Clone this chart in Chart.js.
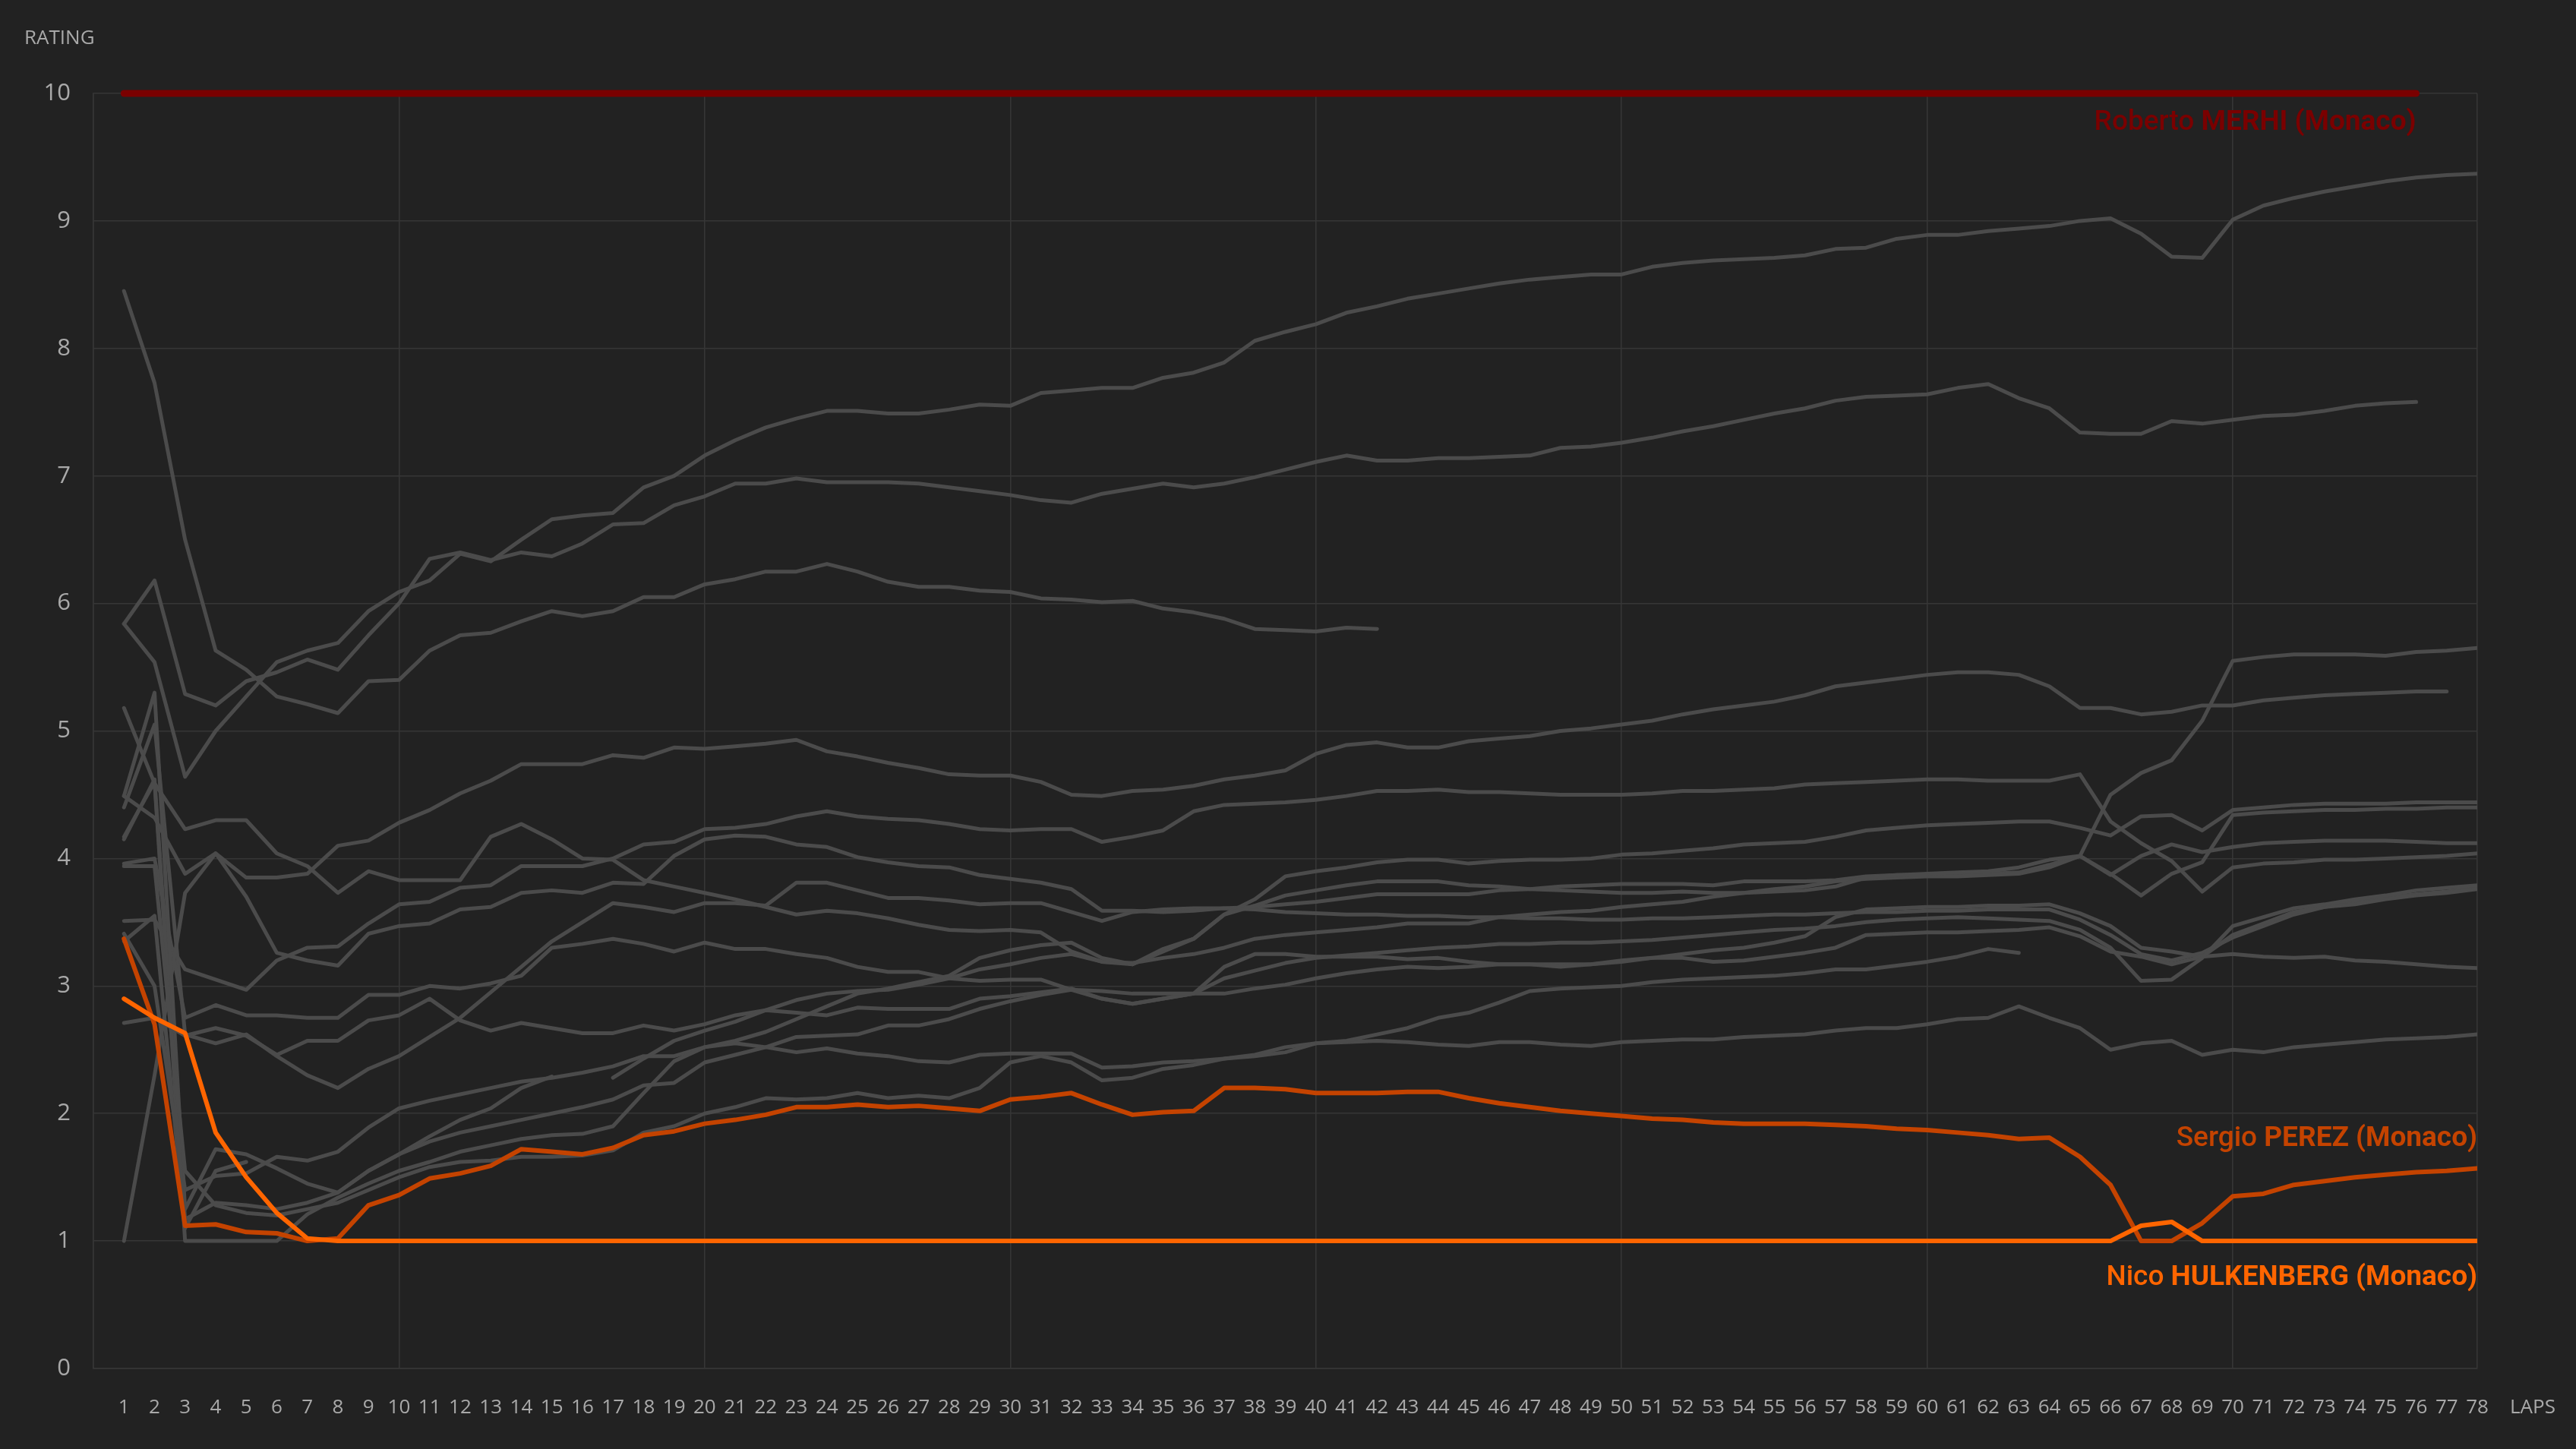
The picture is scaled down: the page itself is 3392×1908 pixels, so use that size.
<!DOCTYPE html>
<html lang="en">
<head>
    <meta charset="UTF-8">
    <title>Driver rating by lap</title>
    <script src="https://cdn.jsdelivr.net/npm/chart.js@4.4.1/dist/chart.umd.min.js"></script>
    <style>
        html, body {
            margin: 0;
            padding: 0;
            background: #222222;
        }
        #wrap {
            width: 3392px;
            height: 1908px;
        }
    </style>
</head>
<body>
    <div id="wrap">
        <canvas id="ratingChart" width="3392" height="1908"></canvas>
    </div>

    <script>
        // laps on the x axis
        var LAPS = [
            1, 2, 3, 4, 5, 6, 7, 8, 9, 10,
            11, 12, 13, 14, 15, 16, 17, 18, 19, 20,
            21, 22, 23, 24, 25, 26, 27, 28, 29, 30,
            31, 32, 33, 34, 35, 36, 37, 38, 39, 40,
            41, 42, 43, 44, 45, 46, 47, 48, 49, 50,
            51, 52, 53, 54, 55, 56, 57, 58, 59, 60,
            61, 62, 63, 64, 65, 66, 67, 68, 69, 70,
            71, 72, 73, 74, 75, 76, 77, 78
        ];

        // highlighted drivers
        var MERHI = [
            10, 10, 10, 10, 10, 10, 10, 10, 10, 10,
            10, 10, 10, 10, 10, 10, 10, 10, 10, 10,
            10, 10, 10, 10, 10, 10, 10, 10, 10, 10,
            10, 10, 10, 10, 10, 10, 10, 10, 10, 10,
            10, 10, 10, 10, 10, 10, 10, 10, 10, 10,
            10, 10, 10, 10, 10, 10, 10, 10, 10, 10,
            10, 10, 10, 10, 10, 10, 10, 10, 10, 10,
            10, 10, 10, 10, 10, 10
        ];
        var PEREZ = [
            3.37, 2.70, 1.12, 1.13, 1.07, 1.06, 1.00, 1.02, 1.28, 1.36,
            1.49, 1.53, 1.59, 1.72, 1.70, 1.68, 1.73, 1.83, 1.86, 1.92,
            1.95, 1.99, 2.05, 2.05, 2.07, 2.05, 2.06, 2.04, 2.02, 2.11,
            2.13, 2.16, 2.07, 1.99, 2.01, 2.02, 2.20, 2.20, 2.19, 2.16,
            2.16, 2.16, 2.17, 2.17, 2.12, 2.08, 2.05, 2.02, 2.00, 1.98,
            1.96, 1.95, 1.93, 1.92, 1.92, 1.92, 1.91, 1.90, 1.88, 1.87,
            1.85, 1.83, 1.80, 1.81, 1.66, 1.44, 1.00, 1.00, 1.14, 1.35,
            1.37, 1.44, 1.47, 1.50, 1.52, 1.54, 1.55, 1.57
        ];
        var HULKENBERG = [
            2.90, 2.75, 2.63, 1.85, 1.50, 1.22, 1.02, 1.00, 1.00, 1.00,
            1.00, 1.00, 1.00, 1.00, 1.00, 1.00, 1.00, 1.00, 1.00, 1.00,
            1.00, 1.00, 1.00, 1.00, 1.00, 1.00, 1.00, 1.00, 1.00, 1.00,
            1.00, 1.00, 1.00, 1.00, 1.00, 1.00, 1.00, 1.00, 1.00, 1.00,
            1.00, 1.00, 1.00, 1.00, 1.00, 1.00, 1.00, 1.00, 1.00, 1.00,
            1.00, 1.00, 1.00, 1.00, 1.00, 1.00, 1.00, 1.00, 1.00, 1.00,
            1.00, 1.00, 1.00, 1.00, 1.00, 1.00, 1.12, 1.15, 1.00, 1.00,
            1.00, 1.00, 1.00, 1.00, 1.00, 1.00, 1.00, 1.00
        ];

        // the rest of the field (grey)
        var DRIVER_A = [
            5.84, 5.54, 4.64, 5.00, 5.27, 5.54, 5.63, 5.69, 5.94, 6.09,
            6.18, 6.39, 6.33, 6.50, 6.66, 6.69, 6.71, 6.91, 7.00, 7.16,
            7.28, 7.38, 7.45, 7.51, 7.51, 7.49, 7.49, 7.52, 7.56, 7.55,
            7.65, 7.67, 7.69, 7.69, 7.77, 7.81, 7.89, 8.06, 8.13, 8.19,
            8.28, 8.33, 8.39, 8.43, 8.47, 8.51, 8.54, 8.56, 8.58, 8.58,
            8.64, 8.67, 8.69, 8.70, 8.71, 8.73, 8.78, 8.79, 8.86, 8.89,
            8.89, 8.92, 8.94, 8.96, 9.00, 9.02, 8.90, 8.72, 8.71, 9.01,
            9.12, 9.18, 9.23, 9.27, 9.31, 9.34, 9.36, 9.37
        ];
        var DRIVER_B = [
            5.84, 6.18, 5.29, 5.20, 5.39, 5.46, 5.56, 5.48, 5.75, 6.00,
            6.35, 6.40, 6.34, 6.40, 6.37, 6.47, 6.62, 6.63, 6.77, 6.84,
            6.94, 6.94, 6.98, 6.95, 6.95, 6.95, 6.94, 6.91, 6.88, 6.85,
            6.81, 6.79, 6.86, 6.90, 6.94, 6.91, 6.94, 6.99, 7.05, 7.11,
            7.16, 7.12, 7.12, 7.14, 7.14, 7.15, 7.16, 7.22, 7.23, 7.26,
            7.30, 7.35, 7.39, 7.44, 7.49, 7.53, 7.59, 7.62, 7.63, 7.64,
            7.69, 7.72, 7.61, 7.53, 7.34, 7.33, 7.33, 7.43, 7.41, 7.44,
            7.47, 7.48, 7.51, 7.55, 7.57, 7.58
        ];
        var DRIVER_C = [
            8.45, 7.73, 6.50, 5.63, 5.48, 5.27, 5.21, 5.14, 5.39, 5.40,
            5.63, 5.75, 5.77, 5.86, 5.94, 5.90, 5.94, 6.05, 6.05, 6.15,
            6.19, 6.25, 6.25, 6.31, 6.25, 6.17, 6.13, 6.13, 6.10, 6.09,
            6.04, 6.03, 6.01, 6.02, 5.96, 5.93, 5.88, 5.80, 5.79, 5.78,
            5.81, 5.80
        ];
        var DRIVER_D = [
            4.49, 4.32, 3.88, 4.04, 3.85, 3.85, 3.88, 4.10, 4.14, 4.28,
            4.38, 4.51, 4.61, 4.74, 4.74, 4.74, 4.81, 4.79, 4.87, 4.86,
            4.88, 4.90, 4.93, 4.84, 4.80, 4.75, 4.71, 4.66, 4.65, 4.65,
            4.60, 4.50, 4.49, 4.53, 4.54, 4.57, 4.62, 4.65, 4.69, 4.82,
            4.89, 4.91, 4.87, 4.87, 4.92, 4.94, 4.96, 5.00, 5.02, 5.05,
            5.08, 5.13, 5.17, 5.20, 5.23, 5.28, 5.35, 5.38, 5.41, 5.44,
            5.46, 5.46, 5.44, 5.35, 5.18, 5.18, 5.13, 5.15, 5.20, 5.20,
            5.24, 5.26, 5.28, 5.29, 5.30, 5.31, 5.31
        ];
        var DRIVER_E = [
            3.94, 3.94, 1.55, 1.28, 1.22, 1.20, 1.25, 1.30, 1.40, 1.50,
            1.58, 1.62, 1.63, 1.66, 1.66, 1.67, 1.71, 1.85, 1.90, 2.00,
            2.05, 2.12, 2.11, 2.12, 2.16, 2.12, 2.14, 2.12, 2.20, 2.40,
            2.45, 2.40, 2.26, 2.28, 2.35, 2.38, 2.43, 2.45, 2.48, 2.55,
            2.57, 2.62, 2.67, 2.75, 2.79, 2.87, 2.96, 2.98, 2.99, 3.00,
            3.03, 3.05, 3.06, 3.07, 3.08, 3.10, 3.13, 3.13, 3.16, 3.19,
            3.23, 3.29, 3.26
        ];
        var DRIVER_G = [
            4.17, 4.60, 1.00, 1.00, 1.00, 1.00, 1.21, 1.34, 1.45, 1.55,
            1.62, 1.70, 1.75, 1.80, 1.83, 1.84, 1.90, 2.16, 2.41, 2.52,
            2.57, 2.64, 2.74, 2.84, 2.94, 2.98, 3.03, 3.08, 3.22, 3.28,
            3.32, 3.34, 3.22, 3.17, 3.29, 3.37, 3.56, 3.63, 3.71, 3.75,
            3.79, 3.82, 3.82, 3.82, 3.79, 3.78, 3.76, 3.75, 3.74, 3.73,
            3.73, 3.74, 3.73, 3.73, 3.74, 3.75, 3.78, 3.85, 3.87, 3.88,
            3.89, 3.90, 3.93, 3.99, 4.02, 4.50, 4.67, 4.77, 5.08, 5.55,
            5.58, 5.60, 5.60, 5.60, 5.59, 5.62, 5.63, 5.65
        ];
        var DRIVER_H = [
            5.18, 4.59, 4.23, 4.30, 4.30, 4.04, 3.94, 3.73, 3.90, 3.83,
            3.83, 3.83, 4.17, 4.27, 4.15, 4.00, 3.99, 3.83, 3.78, 3.73,
            3.68, 3.62, 3.56, 3.59, 3.57, 3.53, 3.48, 3.44, 3.43, 3.44,
            3.42, 3.27, 3.19, 3.17, 3.27, 3.37, 3.56, 3.68, 3.86, 3.90,
            3.93, 3.97, 3.99, 3.99, 3.96, 3.98, 3.99, 3.99, 4.00, 4.03,
            4.04, 4.06, 4.08, 4.11, 4.12, 4.13, 4.17, 4.22, 4.24, 4.26,
            4.27, 4.28, 4.29, 4.29, 4.24, 4.18, 4.33, 4.34, 4.22, 4.38,
            4.40, 4.42, 4.43, 4.43, 4.43, 4.44, 4.44, 4.44
        ];
        var DRIVER_I = [
            4.49, 5.30, 1.25, 1.72, 1.68, 1.57, 1.45, 1.38, 1.55, 1.68,
            1.82, 1.95, 2.04, 2.20, 2.29, null, 2.28, 2.43, 2.57, 2.65,
            2.72, 2.81, 2.89, 2.94, 2.96, 2.97, 3.01, 3.06, 3.13, 3.17,
            3.22, 3.25, 3.19, 3.18, 3.22, 3.25, 3.30, 3.37, 3.40, 3.42,
            3.44, 3.46, 3.49, 3.49, 3.49, 3.54, 3.56, 3.58, 3.59, 3.62,
            3.64, 3.66, 3.70, 3.73, 3.76, 3.78, 3.82, 3.84, 3.85, 3.86,
            3.86, 3.87, 3.88, 3.93, 4.02, 3.88, 3.71, 3.88, 3.97, 4.34,
            4.36, 4.37, 4.38, 4.38, 4.39, 4.39, 4.40, 4.40
        ];
        var DRIVER_J = [
            1.00, 2.30, 3.73, 4.04, 3.70, 3.26, 3.20, 3.16, 3.41, 3.47,
            3.49, 3.60, 3.62, 3.73, 3.75, 3.73, 3.81, 3.80, 4.02, 4.15,
            4.18, 4.17, 4.11, 4.09, 4.01, 3.97, 3.94, 3.93, 3.87, 3.84,
            3.81, 3.76, 3.59, 3.59, 3.58, 3.59, 3.61, 3.62, 3.64, 3.66,
            3.69, 3.72, 3.72, 3.72, 3.72, 3.75, 3.76, 3.78, 3.79, 3.80,
            3.80, 3.80, 3.79, 3.82, 3.82, 3.82, 3.83, 3.86, 3.87, 3.87,
            3.88, 3.88, 3.89, 3.95, 4.02, 3.87, 4.02, 4.11, 4.05, 4.09,
            4.12, 4.13, 4.14, 4.14, 4.14, 4.13, 4.12, 4.12
        ];
        var DRIVER_K = [
            3.51, 3.52, 3.13, 3.05, 2.97, 3.20, 3.30, 3.31, 3.49, 3.64,
            3.66, 3.77, 3.79, 3.94, 3.94, 3.94, 4.00, 4.11, 4.13, 4.23,
            4.24, 4.27, 4.33, 4.37, 4.33, 4.31, 4.30, 4.27, 4.23, 4.22,
            4.23, 4.23, 4.13, 4.17, 4.22, 4.37, 4.42, 4.43, 4.44, 4.46,
            4.49, 4.53, 4.53, 4.54, 4.52, 4.52, 4.51, 4.50, 4.50, 4.50,
            4.51, 4.53, 4.53, 4.54, 4.55, 4.58, 4.59, 4.60, 4.61, 4.62,
            4.62, 4.61, 4.61, 4.61, 4.66, 4.29, 4.12, 3.98, 3.74, 3.93,
            3.96, 3.97, 3.99, 3.99, 4.00, 4.01, 4.02, 4.04
        ];
        var DRIVER_L = [
            4.15, 4.62, 1.17, 1.30, 1.28, 1.25, 1.30, 1.38, 1.55, 1.68,
            1.78, 1.85, 1.90, 1.95, 2.00, 2.05, 2.11, 2.22, 2.24, 2.40,
            2.46, 2.52, 2.60, 2.61, 2.62, 2.69, 2.69, 2.74, 2.82, 2.88,
            2.93, 2.97, 2.96, 2.94, 2.94, 2.94, 3.06, 3.12, 3.18, 3.22,
            3.24, 3.26, 3.28, 3.30, 3.31, 3.33, 3.33, 3.34, 3.34, 3.35,
            3.36, 3.38, 3.40, 3.42, 3.44, 3.45, 3.47, 3.50, 3.52, 3.53,
            3.54, 3.53, 3.52, 3.51, 3.44, 3.30, 3.04, 3.05, 3.22, 3.47,
            3.54, 3.61, 3.64, 3.68, 3.71, 3.75, 3.77, 3.79
        ];
        var DRIVER_M = [
            3.96, 4.00, 2.75, 2.85, 2.77, 2.77, 2.75, 2.75, 2.93, 2.93,
            3.00, 2.98, 3.02, 3.08, 3.30, 3.33, 3.37, 3.33, 3.27, 3.34,
            3.29, 3.29, 3.25, 3.22, 3.15, 3.11, 3.11, 3.06, 3.04, 3.05,
            3.05, 2.97, 2.90, 2.86, 2.90, 2.94, 3.15, 3.25, 3.25, 3.23,
            3.23, 3.23, 3.21, 3.22, 3.19, 3.17, 3.17, 3.15, 3.17, 3.20,
            3.22, 3.22, 3.19, 3.20, 3.23, 3.26, 3.30, 3.40, 3.41, 3.42,
            3.42, 3.43, 3.44, 3.46, 3.39, 3.27, 3.23, 3.17, 3.23, 3.40,
            3.49, 3.58, 3.62, 3.64, 3.68, 3.71, 3.73, 3.76
        ];
        var DRIVER_N = [
            2.71, 2.75, 2.61, 2.67, 2.61, 2.46, 2.57, 2.57, 2.73, 2.77,
            2.90, 2.73, 2.65, 2.71, 2.67, 2.63, 2.63, 2.69, 2.65, 2.70,
            2.77, 2.81, 2.79, 2.77, 2.83, 2.82, 2.82, 2.82, 2.90, 2.92,
            2.95, 2.98, 2.90, 2.86, 2.90, 2.94, 2.94, 2.98, 3.01, 3.06,
            3.10, 3.13, 3.15, 3.14, 3.15, 3.17, 3.17, 3.17, 3.17, 3.19,
            3.22, 3.25, 3.28, 3.30, 3.34, 3.39, 3.54, 3.60, 3.61, 3.62,
            3.62, 3.63, 3.63, 3.64, 3.57, 3.47, 3.30, 3.27, 3.23, 3.25,
            3.23, 3.22, 3.23, 3.20, 3.19, 3.17, 3.15, 3.14
        ];
        var DRIVER_O = [
            3.41, 3.00, 1.40, 1.51, 1.53, 1.66, 1.63, 1.70, 1.89, 2.04,
            2.10, 2.15, 2.20, 2.25, 2.28, 2.32, 2.37, 2.45, 2.45, 2.52,
            2.55, 2.52, 2.48, 2.51, 2.47, 2.45, 2.41, 2.40, 2.46, 2.47,
            2.47, 2.47, 2.36, 2.37, 2.40, 2.41, 2.43, 2.46, 2.52, 2.55,
            2.56, 2.57, 2.56, 2.54, 2.53, 2.56, 2.56, 2.54, 2.53, 2.56,
            2.57, 2.58, 2.58, 2.60, 2.61, 2.62, 2.65, 2.67, 2.67, 2.70,
            2.74, 2.75, 2.84, 2.75, 2.67, 2.50, 2.55, 2.57, 2.46, 2.50,
            2.48, 2.52, 2.54, 2.56, 2.58, 2.59, 2.60, 2.62
        ];
        var DRIVER_Q = [
            4.40, 5.05, 2.62, 2.55, 2.62, 2.45, 2.30, 2.20, 2.35, 2.45,
            2.60, 2.75, 2.95, 3.15, 3.35, 3.50, 3.65, 3.62, 3.58, 3.65,
            3.65, 3.63, 3.81, 3.81, 3.75, 3.69, 3.69, 3.67, 3.64, 3.65,
            3.65, 3.58, 3.51, 3.58, 3.60, 3.61, 3.61, 3.60, 3.58, 3.57,
            3.56, 3.56, 3.55, 3.55, 3.54, 3.54, 3.53, 3.53, 3.52, 3.52,
            3.53, 3.53, 3.54, 3.55, 3.56, 3.56, 3.57, 3.58, 3.58, 3.59,
            3.59, 3.60, 3.60, 3.60, 3.52, 3.40, 3.25, 3.20, 3.26, 3.38,
            3.47, 3.56, 3.62, 3.66, 3.69, 3.72, 3.74, 3.77
        ];
        var DRIVER_R = [3.35, 3.55, 1.10, 1.55, 1.62];

        var GREY_FIELD = [
            DRIVER_A, DRIVER_B, DRIVER_C, DRIVER_D, DRIVER_E, DRIVER_G,
            DRIVER_H, DRIVER_I, DRIVER_J, DRIVER_K, DRIVER_L, DRIVER_M,
            DRIVER_N, DRIVER_O, DRIVER_Q, DRIVER_R
        ];

        var GRID = '#363636';
        var TICK = '#a9a9a9';
        var GREY_LINE = '#4b4b4b';
        var RED = '#7a0000';
        var PEREZ_COL = '#c44300';
        var HULK_COL = '#ff6500';

        function toPoints(values) {
            var pts = [];
            for (var i = 0; i < values.length; i++) {
                pts.push({ x: LAPS[i], y: values[i] });
            }
            return pts;
        }

        var datasets = [
            { label: 'Nico HULKENBERG', data: toPoints(HULKENBERG), borderColor: HULK_COL, borderWidth: 6, order: 0 },
            { label: 'Sergio PEREZ', data: toPoints(PEREZ), borderColor: PEREZ_COL, borderWidth: 6, order: 1 },
            { label: 'Roberto MERHI', data: toPoints(MERHI), borderColor: RED, borderWidth: 9, order: 2, clip: false }
        ];
        GREY_FIELD.forEach(function (d, i) {
            datasets.push({ label: 'driver ' + i, data: toPoints(d), borderColor: GREY_LINE, borderWidth: 5, order: 3 });
        });

        // driver labels, anchored on the chart scales
        var NAME_TAGS = [
            { first: 'Roberto', last: 'MERHI (Monaco)', lap: 76, value: 9.77, color: RED },
            { first: 'Sergio', last: 'PEREZ (Monaco)', lap: 78, value: 1.80, color: PEREZ_COL },
            { first: 'Nico', last: 'HULKENBERG (Monaco)', lap: 78, value: 0.71, color: HULK_COL }
        ];

        var decorations = {
            id: 'decorations',
            beforeDraw: function (chart) {
                var c = chart.ctx;
                c.save();
                c.fillStyle = '#222222';
                c.fillRect(0, 0, chart.width, chart.height);
                c.restore();
            },
            afterDraw: function (chart) {
                var c = chart.ctx;
                var xs = chart.scales.x;
                var ys = chart.scales.y;
                c.save();
                c.fillStyle = TICK;
                c.textBaseline = 'middle';
                c.textAlign = 'left';
                c.font = '26px "Open Sans", sans-serif';
                c.fillText('RATING', 32, 51);
                c.fillText('LAPS', chart.chartArea.right + 43, 1854);

                NAME_TAGS.forEach(function (t) {
                    var rx = xs.getPixelForValue(t.lap);
                    var yy = ys.getPixelForValue(t.value);
                    c.fillStyle = t.color;
                    c.textAlign = 'right';
                    c.font = 'bold 37px Roboto, sans-serif';
                    var w = c.measureText(t.last).width;
                    c.fillText(t.last, rx, yy);
                    c.font = '500 37px Roboto, sans-serif';
                    c.fillText(t.first + ' ', rx - w, yy);
                });
                c.restore();
            }
        };

        var ratingChart = new Chart(document.getElementById('ratingChart').getContext('2d'), {
            type: 'line',
            data: { datasets: datasets },
            plugins: [decorations],
            options: {
                responsive: false,
                animation: false,
                layout: {
                    padding: { left: 0, right: 130, top: 123, bottom: 0 }
                },
                plugins: {
                    legend: { display: false },
                    tooltip: { enabled: false }
                },
                elements: {
                    point: { radius: 0 },
                    line: { tension: 0, borderCapStyle: 'round', borderJoinStyle: 'round' }
                },
                scales: {
                    x: {
                        type: 'linear',
                        min: 0,
                        max: 78,
                        afterFit: function (s) { s.height = 106; },
                        ticks: {
                            stepSize: 1,
                            autoSkip: false,
                            maxRotation: 0,
                            minRotation: 0,
                            padding: 36,
                            color: TICK,
                            font: { family: '"Open Sans", sans-serif', size: 26 },
                            callback: function (v) { return v === 0 ? '' : v; }
                        },
                        grid: {
                            drawTicks: false,
                            lineWidth: 1.5,
                            color: function (ctx) {
                                var v = ctx.tick ? ctx.tick.value : null;
                                return (v !== null && (v % 10 === 0 || v === 78)) ? GRID : 'rgba(0,0,0,0)';
                            }
                        },
                        border: { color: GRID, width: 1.5 }
                    },
                    y: {
                        min: 0,
                        max: 10,
                        afterFit: function (s) { s.width = 123; },
                        ticks: {
                            stepSize: 1,
                            padding: 30,
                            color: TICK,
                            font: { family: '"Open Sans", sans-serif', size: 31 }
                        },
                        grid: { drawTicks: false, lineWidth: 1.5, color: GRID },
                        border: { color: GRID, width: 1.5 }
                    }
                }
            }
        });
    </script>
</body>
</html>
